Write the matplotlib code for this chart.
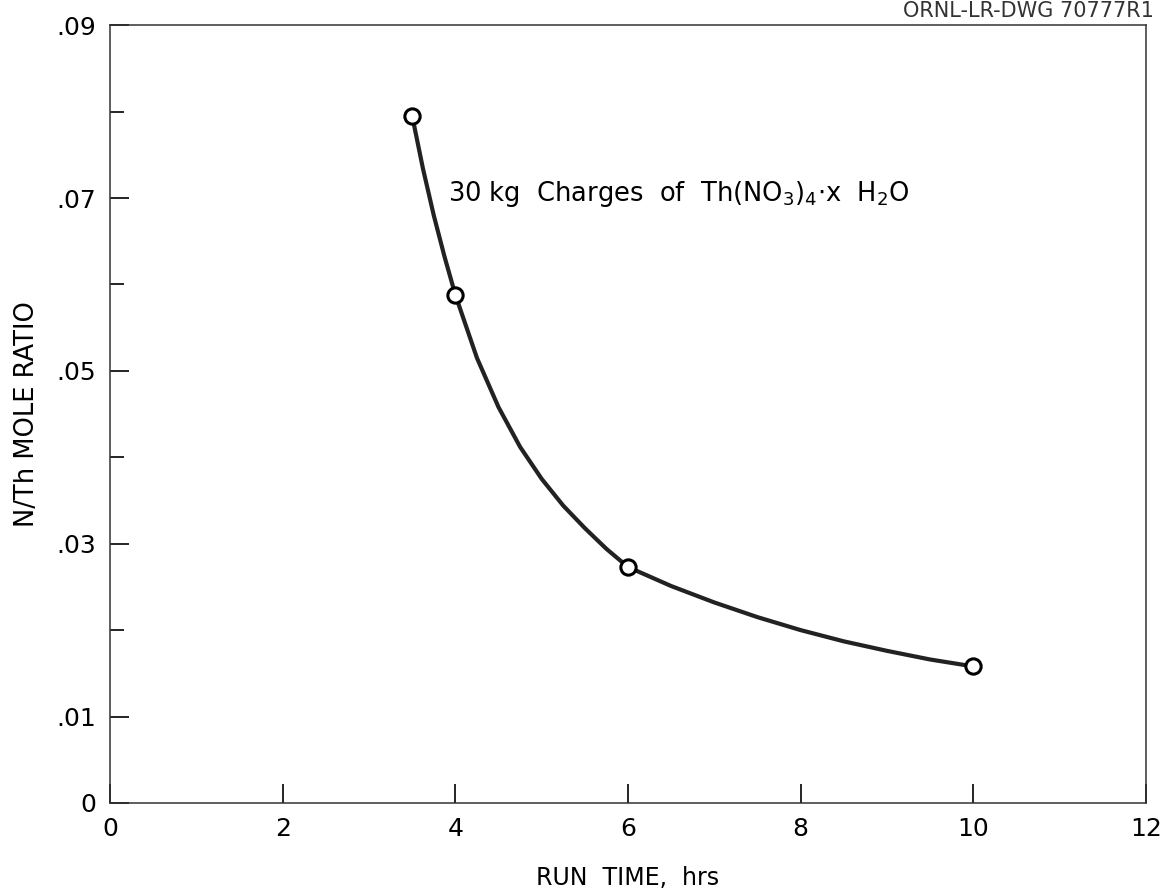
from matplotlib import pyplot as plt
import numpy as np

plt.rcParams['font.family'] = ['DejaVu Sans']
plt.rcParams['mathtext.fontset'] = 'dejavusans'

# measured points
run_time = [3.5, 4.0, 6.0, 10.0]
ratio    = [0.0795, 0.0588, 0.0273, 0.0158]

# hand-read points along the drawn curve
curve_x = [3.5, 3.625, 3.75, 3.875, 4.0, 4.25, 4.5, 4.75, 5.0, 5.25, 5.5, 5.75, 6.0,
           6.5, 7.0, 7.5, 8.0, 8.5, 9.0, 9.5, 10.0]
curve_y = [0.0795, 0.0734, 0.0680, 0.0632, 0.0588, 0.0515, 0.0458, 0.0412, 0.0375, 0.0344, 0.0318, 0.0294, 0.0273,
           0.0251, 0.0232, 0.0215, 0.0200, 0.0187, 0.0176, 0.0166, 0.0158]

xticks = [0, 2, 4, 6, 8, 10, 12]
yticks = [0, 0.01, 0.03, 0.05, 0.07, 0.09]
ytick_labels = ['0', '.01', '.03', '.05', '.07', '.09']

fig = plt.figure(figsize=(11.6, 8.92), dpi=100)
ax = fig.add_axes([0.0948, 0.0998, 0.8932, 0.872])

ax.plot(curve_x, curve_y, color='#222222', lw=3.0, zorder=2, solid_joinstyle='round')
ax.plot(run_time, ratio, 'o', ms=11, mfc='white', mec='black', mew=2.2, zorder=3)

ax.set_xlim(0, 12)
ax.set_ylim(0, 0.09)
ax.set_xticks(xticks)
ax.set_yticks(yticks)
ax.set_yticklabels(ytick_labels)
ax.set_yticks([0.02, 0.04, 0.06, 0.08], minor=True)
ax.tick_params(axis='both', which='major', direction='in', length=14, width=1.2,
               labelsize=18, pad=10)
ax.tick_params(axis='y', which='minor', direction='in', length=10, width=1.2)
for s in ax.spines.values():
    s.set_linewidth(1.1)
    s.set_color('#333333')

ax.text(3.92, 0.0705, r'30 kg  Charges  of  Th(NO$_3$)$_4$$\cdot$x  H$_2$O', fontsize=18.5,
        va='center', ha='left')

ax.set_xlabel('RUN  TIME,  hrs', fontsize=17, labelpad=18)
ax.set_ylabel('N/Th MOLE RATIO', fontsize=18.5, labelpad=12)

fig.text(0.995, 0.999, 'ORNL-LR-DWG 70777R1', ha='right', va='top', fontsize=15, color='#333333')

plt.savefig('out.png')
